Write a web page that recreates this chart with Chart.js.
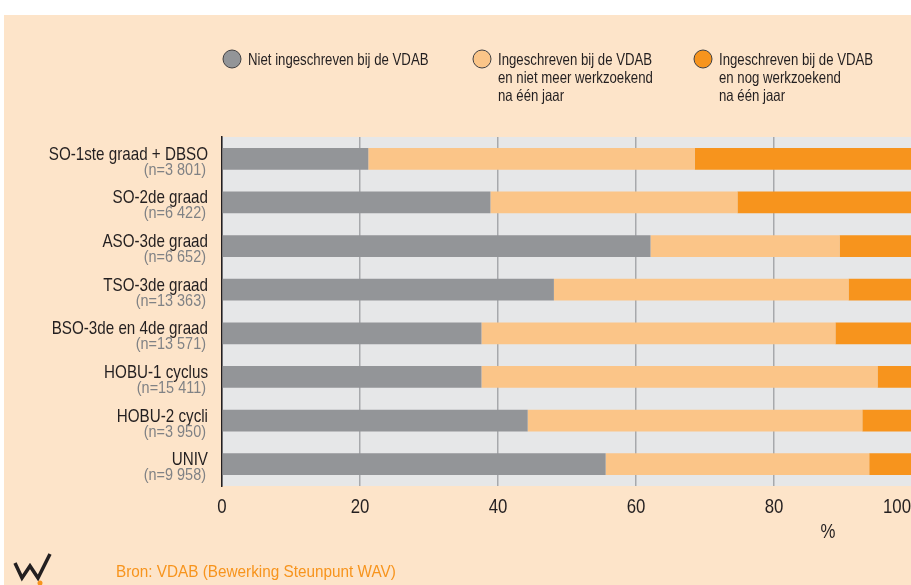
<!DOCTYPE html>
<html>
<head>
<meta charset="utf-8">
<script src="https://cdn.jsdelivr.net/npm/chart.js@4/dist/chart.umd.min.js"></script>
<style>
  html, body { margin: 0; padding: 0; background: #ffffff; overflow: hidden; width: 911px; height: 585px; }
  #wrap { position: absolute; left: 0; top: 0; width: 930px; height: 585px; }
</style>
</head>
<body>
<div id="wrap"><canvas id="c" width="930" height="585"></canvas></div>
<script>
// ---- Data ----
const categories = ['SO-1ste graad + DBSO', 'SO-2de graad', 'ASO-3de graad', 'TSO-3de graad',
                    'BSO-3de en 4de graad', 'HOBU-1 cyclus', 'HOBU-2 cycli', 'UNIV'];
const counts = ['3 801', '6 422', '6 652', '13 363', '13 571', '15 411', '3 950', '9 958'];
const notRegistered = [21.2, 38.9, 62.1, 48.1, 37.6, 37.6, 44.3, 55.6];
const registeredNoLongerSeeking = [47.3, 35.8, 27.4, 42.7, 51.3, 57.4, 48.5, 38.2];
const registeredStillSeeking = [31.5, 25.3, 10.5, 9.2, 11.1, 5.0, 7.2, 6.2];
const seriesLabels = [
  ['Niet ingeschreven bij de VDAB'],
  ['Ingeschreven bij de VDAB', 'en niet meer werkzoekend', 'na één jaar'],
  ['Ingeschreven bij de VDAB', 'en nog werkzoekend', 'na één jaar']
];
const xTicks = [0, 20, 40, 60, 80, 100];
const axisUnit = '%';
const sourceText = 'Bron: VDAB (Bewerking Steunpunt WAV)';

// ---- Styles ----
const FONT = "'Liberation Sans', Arial, sans-serif";
const colors = ['#939598', '#fbc588', '#f7941d'];
const PEACH = '#fde4c9';
const DARK = '#231f20';

// draw text with a horizontal squeeze (narrow typeface look)
function narrowText(ctx, text, x, y, size, sx, align, color) {
  ctx.save();
  ctx.translate(x, y);
  ctx.scale(sx, 1);
  ctx.font = size + 'px ' + FONT;
  ctx.textAlign = align;
  ctx.textBaseline = 'alphabetic';
  ctx.fillStyle = color;
  ctx.fillText(text, 0, 0);
  ctx.restore();
}

const decor = {
  id: 'decor',
  beforeDraw(chart) {
    const ctx = chart.ctx;
    const ca = chart.chartArea;
    ctx.save();
    ctx.fillStyle = PEACH;
    ctx.fillRect(4, 15, chart.width, chart.height);
    ctx.fillStyle = '#e6e7e8';
    ctx.fillRect(ca.left, ca.top, ca.right - ca.left, ca.bottom - ca.top);
    ctx.restore();
  },
  afterDraw(chart) {
    const ctx = chart.ctx;
    const y = chart.scales.y;
    const x = chart.scales.x;
    const ca = chart.chartArea;
    // Category labels
    categories.forEach((cat, i) => {
      const py = y.getPixelForValue(i);
      narrowText(ctx, cat, 208, py + 1, 19, 0.8, 'right', DARK);
      narrowText(ctx, '(n=' + counts[i] + ')', 206, py + 16, 17, 0.85, 'right', '#808285');
    });
    // X tick labels
    xTicks.forEach(v => {
      const px = Math.min(x.getPixelForValue(v), 897);
      narrowText(ctx, String(v), px, ca.bottom + 27, 21, 0.8, 'center', DARK);
    });
    // Legend
    const lx = [232, 482, 703];
    chart.data.datasets.forEach((ds, i) => {
      ctx.save();
      ctx.beginPath();
      ctx.arc(lx[i], 59, 9, 0, Math.PI * 2);
      ctx.fillStyle = ds.backgroundColor;
      ctx.fill();
      ctx.lineWidth = 1;
      ctx.strokeStyle = '#414042';
      ctx.stroke();
      ctx.restore();
      seriesLabels[i].forEach((line, j) => {
        narrowText(ctx, line, lx[i] + 16, 65 + j * 18, 16.5, 0.8, 'left', DARK);
      });
    });
    // Unit
    narrowText(ctx, axisUnit, 828, 538, 21, 0.8, 'center', DARK);
    // Source
    narrowText(ctx, sourceText, 116, 577, 17, 0.9, 'left', '#f7941d');
    // Logo
    ctx.save();
    ctx.beginPath();
    ctx.moveTo(15, 563);
    ctx.lineTo(22, 578);
    ctx.lineTo(30, 566);
    ctx.lineTo(38, 578);
    ctx.lineTo(50, 554);
    ctx.lineWidth = 3.5;
    ctx.lineJoin = 'miter';
    ctx.strokeStyle = DARK;
    ctx.stroke();
    ctx.beginPath();
    ctx.arc(40, 583, 2.5, 0, Math.PI * 2);
    ctx.fillStyle = '#f7941d';
    ctx.fill();
    ctx.restore();
  }
};

const seriesData = [notRegistered, registeredNoLongerSeeking, registeredStillSeeking];

new Chart(document.getElementById('c'), {
  type: 'bar',
  data: {
    labels: categories,
    datasets: seriesData.map((d, i) => ({
      label: seriesLabels[i].join(' '),
      data: d,
      backgroundColor: colors[i],
      borderWidth: 0,
      categoryPercentage: 1,
      barPercentage: 0.5
    }))
  },
  options: {
    indexAxis: 'y',
    responsive: false,
    animation: false,
    layout: { padding: { left: 222, right: 18, top: 137, bottom: 0 } },
    plugins: { legend: { display: false }, tooltip: { enabled: false } },
    scales: {
      x: {
        stacked: true,
        min: 0, max: 100,
        afterBuildTicks(scale) { scale.ticks = xTicks.map(v => ({ value: v })); },
        afterFit(scale) { scale.height = 99; scale.paddingLeft = 0; scale.paddingRight = 0; },
        grid: { color: '#a7a9ac', lineWidth: 1.5, drawTicks: false },
        border: { display: false },
        ticks: { display: false }
      },
      y: {
        stacked: true,
        afterFit(scale) { scale.width = 0; scale.paddingTop = 0; scale.paddingBottom = 0; },
        grid: { display: false },
        border: { display: true, color: DARK, width: 1.5 },
        ticks: { display: false }
      }
    }
  },
  plugins: [decor]
});
</script>
</body>
</html>
